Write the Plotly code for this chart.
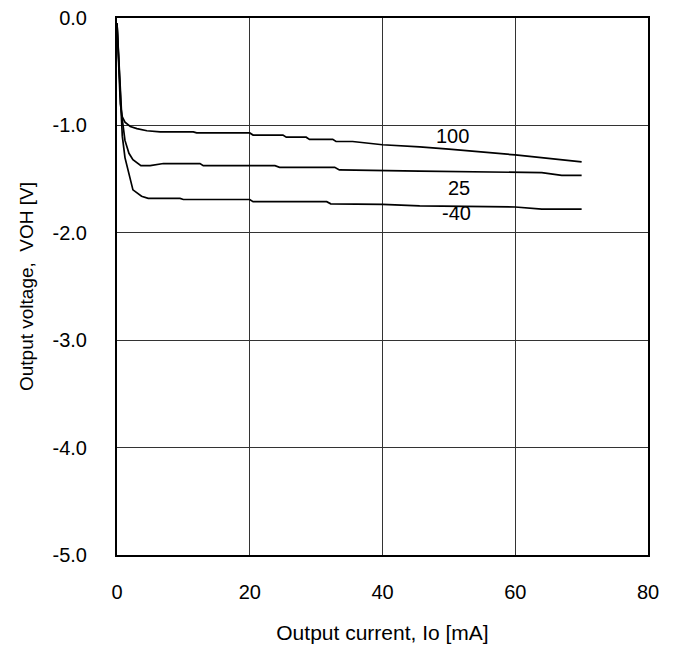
import plotly.graph_objects as go

# Output current Io [mA] and output voltage VOH [V] for each temperature
x_100 = [0, 0.15, 0.3, 0.5, 0.8, 1.2, 2, 3, 4.5, 6.5, 11.5, 12, 20, 20.5, 25, 25.5, 28.5, 29, 32.5, 33, 35.5, 40, 45.6, 50, 60, 70]
y_100 = [-0.05, -0.3, -0.6, -0.8, -0.92, -0.97, -1.01, -1.03, -1.05, -1.06, -1.06, -1.07, -1.07, -1.09, -1.09, -1.11, -1.11, -1.13, -1.13, -1.15, -1.15, -1.18, -1.2, -1.22, -1.275, -1.34]

x_25 = [0, 0.2, 0.4, 0.7, 1.2, 1.8, 2.4, 3.6, 5, 6.5, 7, 12.5, 13, 23.8, 24.5, 32.8, 33.5, 45.6, 64, 67, 70]
y_25 = [-0.05, -0.3, -0.6, -0.9, -1.14, -1.26, -1.32, -1.375, -1.375, -1.36, -1.355, -1.355, -1.375, -1.375, -1.39, -1.39, -1.415, -1.425, -1.44, -1.465, -1.465]

x_m40 = [0, 0.25, 0.5, 0.8, 1.2, 1.5, 2.4, 3.7, 4.7, 9.5, 10, 20, 20.5, 31.6, 32.2, 40, 45.6, 60, 64, 70]
y_m40 = [-0.05, -0.4, -0.8, -1.1, -1.3, -1.38, -1.6, -1.66, -1.68, -1.68, -1.69, -1.69, -1.71, -1.71, -1.73, -1.735, -1.75, -1.76, -1.78, -1.78]

labels = ["100", "25", "-40"]
label_x = [50.5, 51.5, 51.2]
label_y = [-1.1, -1.58, -1.82]

x_ticks = [0, 20, 40, 60, 80]
y_ticks = [0, -1, -2, -3, -4, -5]
y_tick_text = ["0.0", "-1.0", "-2.0", "-3.0", "-4.0", "-5.0"]

FAMILY = "Liberation Sans, Arial, sans-serif"
font = dict(family=FAMILY, size=20, color="black")

fig = go.Figure()
for xs, ys in [(x_100, y_100), (x_25, y_25), (x_m40, y_m40)]:
    fig.add_trace(go.Scatter(x=xs, y=ys, mode="lines",
                             line=dict(color="black", width=1.7),
                             showlegend=False, hoverinfo="skip"))

for t, lx, ly in zip(labels, label_x, label_y):
    fig.add_annotation(x=lx, y=ly, text=t, showarrow=False, font=font)

fig.update_layout(
    width=679, height=653,
    margin=dict(l=117, r=31, t=18, b=98),
    paper_bgcolor="white", plot_bgcolor="white",
    font=font,
)
fig.update_xaxes(range=[0, 80], tickvals=x_ticks, showgrid=True,
                 gridcolor="#333333", gridwidth=0.8, zeroline=False,
                 showline=True, linecolor="black", linewidth=2, mirror=True,
                 ticks="", ticklabelstandoff=18, automargin=False,
                 title=dict(text="Output current, Io [mA]", standoff=23,
                            font=dict(family=FAMILY, size=21, color="black")))
fig.update_yaxes(range=[-5, 0], tickvals=y_ticks, ticktext=y_tick_text,
                 showgrid=True, gridcolor="#333333", gridwidth=0.8,
                 zeroline=False, showline=True, linecolor="black", linewidth=2,
                 mirror=True, ticks="", ticklabelstandoff=24, automargin=False,
                 title=dict(text="Output voltage,  VOH [V]", standoff=14,
                            font=dict(family=FAMILY, size=19, color="black")))

fig.write_html("out.html", config={"displayModeBar": False},
               post_script="document.body.style.margin='0';")
